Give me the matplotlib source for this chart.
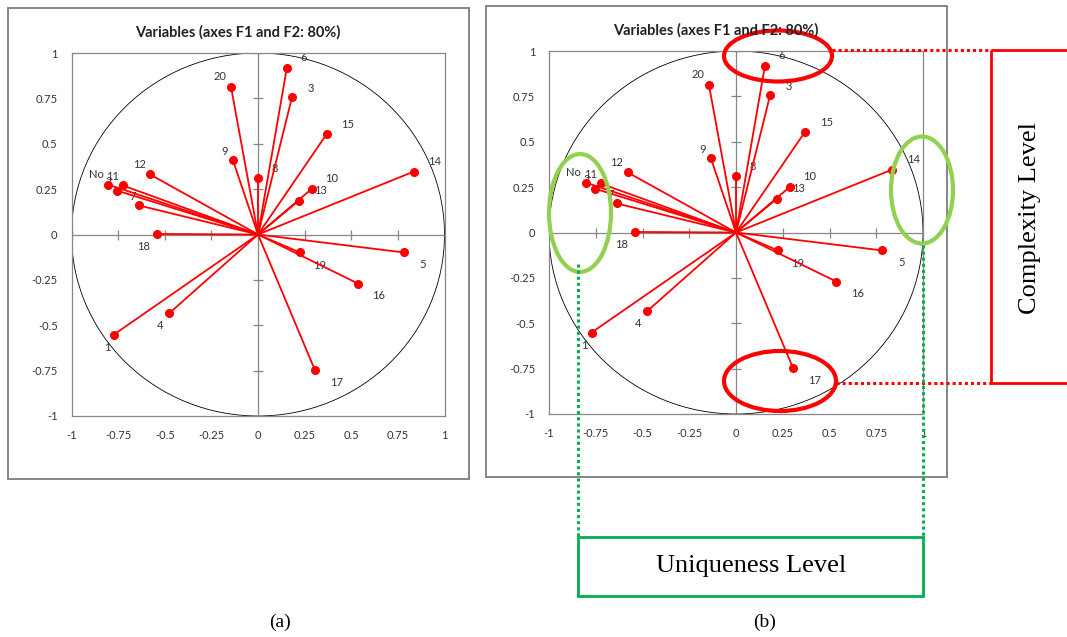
import numpy as np
import matplotlib.pyplot as plt
from matplotlib.patches import Circle, Ellipse, Rectangle

# datos del circulo de correlaciones (F1, F2)
etiquetas = ['No', '11', '2', '7', '12', '18', '20', '6', '3', '15', '9', '8',
             '14', '10', '13', '5', '19', '16', '17', '4', '1']
f1 = [-0.804, -0.724, -0.756, -0.638, -0.579, -0.542, -0.145, 0.155, 0.182, 0.370,
      -0.134, 0.0, 0.836, 0.290, 0.220, 0.783, 0.225, 0.536, 0.306, -0.477, -0.772]
f2 = [0.275, 0.270, 0.242, 0.160, 0.331, 0.003, 0.815, 0.920, 0.755, 0.556,
      0.408, 0.314, 0.347, 0.253, 0.187, -0.099, -0.099, -0.270, -0.749, -0.435, -0.551]
ticks = [-1, -0.75, -0.5, -0.25, 0, 0.25, 0.5, 0.75, 1]
tick_labels = ['-1', '-0.75', '-0.5', '-0.25', '0', '0.25', '0.5', '0.75', '1']
titulo = 'Variables (axes F1 and F2: 80%)'
texto_rojo = 'Complexity Level'
texto_verde = 'Uniqueness Level'
subtitulos = ['(a)', '(b)']

# desplazamiento de cada etiqueta respecto a su punto (pixeles, y hacia abajo)
offs = {'No': (-12, -10), '11': (-10, -9), '2': (-8, -9), '7': (-6, -9), '12': (-11, -10),
        '18': (-13, 13), '20': (-11, -10), '6': (17, -10), '3': (19, -9), '15': (21, -9),
        '9': (-8, -9), '8': (17, -9), '14': (21, -10), '10': (19, -10), '13': (21, -10),
        '5': (19, 12), '19': (20, 13), '16': (21, 12), '17': (21, 12), '4': (-9, 12), '1': (-7, 13)}

W, H = 1067, 637
GRIS = '#868686'
ROJO = '#FF0000'
VERDE_CLARO = '#92D050'
VERDE = '#00B050'
plt.rcParams['font.family'] = ['Lato', 'DejaVu Sans']

fig = plt.figure(figsize=(W / 100, H / 100), dpi=100)


def ejes_px(l, t, r, b):
    return fig.add_axes([l / W, 1 - b / H, (r - l) / W, (b - t) / H])


def panel(ax):
    ax.set_xlim(-1, 1)
    ax.set_ylim(-1, 1)
    ax.add_patch(Circle((0, 0), 1, fill=False, color='black', lw=0.6, zorder=1))
    # ejes centrales con marcas cruzadas
    ax.axhline(0, color=GRIS, lw=0.9, zorder=1)
    ax.axvline(0, color=GRIS, lw=0.9, zorder=1)
    ax.plot(ticks, np.zeros(len(ticks)), ls='none', marker='|', ms=7, mew=0.9, color=GRIS, zorder=1)
    ax.plot(np.zeros(len(ticks)), ticks, ls='none', marker='_', ms=7, mew=0.9, color=GRIS, zorder=1)
    # etiquetas debajo de los puntos, como en Excel
    for lab, x, y in zip(etiquetas, f1, f2):
        dx, dy = offs[lab]
        ax.annotate(lab, (x, y), xytext=(dx, -dy), textcoords='offset pixels',
                    ha='center', va='center', fontsize=8, color='#333333', zorder=2)
    for x, y in zip(f1, f2):
        ax.plot([0, x], [0, y], color=ROJO, lw=1.3, zorder=3)
    ax.plot(f1, f2, 'o', color=ROJO, ms=5.5, zorder=4)
    ax.set_xticks(ticks, tick_labels)
    ax.set_yticks(ticks, tick_labels)
    ax.tick_params(length=0, labelsize=8, labelcolor='#333333', pad=10)
    for s in ax.spines.values():
        s.set_color(GRIS)
        s.set_linewidth(0.9)


axa = ejes_px(71.5, 53, 444.5, 416)
panel(axa)
axb = ejes_px(549, 51, 923, 414)
panel(axb)

# capa superior en pixeles para marcos y anotaciones
ov = fig.add_axes([0, 0, 1, 1], zorder=10)
ov.set_xlim(0, W)
ov.set_ylim(H, 0)
ov.axis('off')
ov.patch.set_alpha(0)

ov.add_patch(Rectangle((8, 8), 461, 471, fill=False, ec=GRIS, lw=1.4))
ov.add_patch(Rectangle((486, 6), 461, 471, fill=False, ec=GRIS, lw=1.4))
ov.text(238, 32, titulo, ha='center', va='center', fontsize=10.5, fontweight='bold', color='#222222')
ov.text(716, 30, titulo, ha='center', va='center', fontsize=10.5, fontweight='bold', color='#222222')

# elipses
ov.add_patch(Ellipse((778, 56), 108, 51, fill=False, ec=ROJO, lw=3))
ov.add_patch(Ellipse((780, 381), 112, 60, fill=False, ec=ROJO, lw=3))
ov.add_patch(Ellipse((580, 213), 62, 118, fill=False, ec=VERDE_CLARO, lw=3))
ov.add_patch(Ellipse((922, 190), 62, 107, fill=False, ec=VERDE_CLARO, lw=3))

# lineas punteadas y cajas
ov.plot([832, 991], [50, 50], color=ROJO, lw=2.2, ls=(0, (1, 1)))
ov.plot([836, 991], [383, 383], color=ROJO, lw=2.2, ls=(0, (1, 1)))
ov.add_patch(Rectangle((991, 50), 200, 333, fill=False, ec=ROJO, lw=2))
ov.text(1030, 218, texto_rojo, rotation=90, ha='center', va='center', fontsize=19,
        family='Liberation Serif', color='black')

ov.plot([578, 578], [264, 537], color=VERDE, lw=2.2, ls=(0, (1, 1)))
ov.plot([923, 923], [245, 537], color=VERDE, lw=2.2, ls=(0, (1, 1)))
ov.add_patch(Rectangle((578, 537), 345, 59, fill=False, ec=VERDE, lw=2))
ov.text(751, 566, texto_verde, ha='center', va='center', fontsize=19,
        family='Liberation Serif', color='black')

ov.text(280, 622, subtitulos[0], ha='center', va='center', fontsize=14, family='Liberation Serif')
ov.text(765, 622, subtitulos[1], ha='center', va='center', fontsize=14, family='Liberation Serif')

fig.savefig('out.png', dpi=100)
